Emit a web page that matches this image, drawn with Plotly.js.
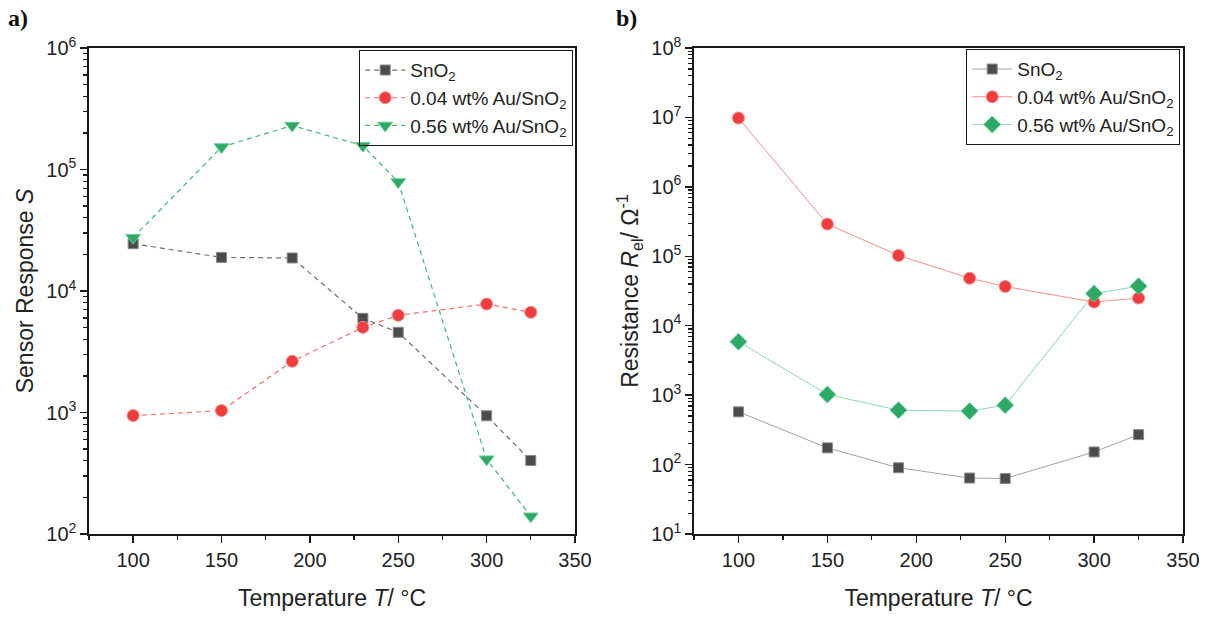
<!DOCTYPE html>
<html><head><meta charset="utf-8">
<script src="https://cdn.plot.ly/plotly-3.0.1.min.js"></script>
<style>html,body{margin:0;padding:0;background:#fff}#chart{width:1212px;height:617px}</style>
</head><body><div id="chart"></div>
<script>
// ---- data ----
const temperature = [100, 150, 190, 230, 250, 300, 325];
const responseSnO2 = [24500, 18900, 18700, 5960, 4570, 940, 403];
const responseAu004 = [944, 1037, 2640, 5020, 6310, 7810, 6680];
const responseAu056 = [27500, 153000, 230000, 157000, 79000, 413, 140];
const resistanceSnO2 = [575, 174, 90, 64, 63, 152, 270];
const resistanceAu004 = [9.8e6, 2.91e5, 1.03e5, 4.83e4, 3.67e4, 2.19e4, 2.5e4];
const resistanceAu056 = [5890, 1023, 608, 589, 718, 2.91e4, 3.71e4];
const seriesNames = ['SnO<sub>2</sub>', '0.04 wt% Au/SnO<sub>2</sub>', '0.56 wt% Au/SnO<sub>2</sub>'];
const xTickVals = [100, 150, 200, 250, 300, 350];
const leftYTickVals = [1e2, 1e3, 1e4, 1e5, 1e6];
const leftYTickText = ['10<sup>2</sup>', '10<sup>3</sup>', '10<sup>4</sup>', '10<sup>5</sup>', '10<sup>6</sup>'];
const rightYTickVals = [1e1, 1e2, 1e3, 1e4, 1e5, 1e6, 1e7, 1e8];
const rightYTickText = ['10<sup>1</sup>', '10<sup>2</sup>', '10<sup>3</sup>', '10<sup>4</sup>', '10<sup>5</sup>', '10<sup>6</sup>', '10<sup>7</sup>', '10<sup>8</sup>'];

const FONT = 'Liberation Sans, Arial, sans-serif';
const markerGray = '#4b4b4b', markerRed = '#f03c3c', markerGreen = '#2ea865';

function minorLogVals(lo, hi) {
  const v = [];
  for (let d = lo; d < hi; d++) for (let k = 2; k <= 9; k++) v.push(k * Math.pow(10, d));
  return v;
}

const traces = [
  {x: temperature, y: responseSnO2, name: seriesNames[0], xaxis: 'x', yaxis: 'y', legend: 'legend',
   mode: 'lines+markers', line: {color: '#6e6e6e', width: 1.2, dash: '5px,4px'},
   marker: {symbol: 'square', size: 10, color: markerGray, line: {color: '#8a8a8a', width: 1}}},
  {x: temperature, y: responseAu004, name: seriesNames[1], xaxis: 'x', yaxis: 'y', legend: 'legend',
   mode: 'lines+markers', line: {color: '#f26a6a', width: 1.2, dash: '5px,4px'},
   marker: {symbol: 'circle', size: 12, color: markerRed, line: {color: '#f58a8a', width: 1}}},
  {x: temperature, y: responseAu056, name: seriesNames[2], xaxis: 'x', yaxis: 'y', legend: 'legend',
   mode: 'lines+markers', line: {color: '#3dba75', width: 1.2, dash: '5px,4px'},
   marker: {symbol: 'triangle-down', size: 13, color: markerGreen, line: {color: '#6fcc98', width: 1}}},
  {x: temperature, y: resistanceSnO2, name: seriesNames[0], xaxis: 'x2', yaxis: 'y2', legend: 'legend2',
   mode: 'lines+markers', line: {color: '#a3a3a3', width: 1},
   marker: {symbol: 'square', size: 10, color: markerGray, line: {color: '#8a8a8a', width: 1}}},
  {x: temperature, y: resistanceAu004, name: seriesNames[1], xaxis: 'x2', yaxis: 'y2', legend: 'legend2',
   mode: 'lines+markers', line: {color: '#f58f8f', width: 1},
   marker: {symbol: 'circle', size: 12, color: markerRed, line: {color: '#f58a8a', width: 1}}},
  {x: temperature, y: resistanceAu056, name: seriesNames[2], xaxis: 'x2', yaxis: 'y2', legend: 'legend2',
   mode: 'lines+markers', line: {color: '#8fd8b1', width: 1},
   marker: {symbol: 'diamond', size: 13, color: markerGreen, line: {color: '#6fcc98', width: 1}}}
];

function xAxis(domain, anchor) {
  return {
    domain: domain, anchor: anchor, range: [75, 350], tickmode: 'array', tickvals: xTickVals,
    showline: true, mirror: true, linecolor: '#1a1a1a', linewidth: 1.6,
    ticks: 'outside', ticklen: 7, tickwidth: 1.4, tickcolor: '#1a1a1a',
    minor: {tickmode: 'array', tickvals: [75, 125, 175, 225, 275, 325], ticks: 'outside', ticklen: 4, tickwidth: 1.2, tickcolor: '#1a1a1a', showgrid: false},
    showgrid: false, zeroline: false,
    tickfont: {family: FONT, size: 20, color: '#222'},
    title: {text: 'Temperature <i>T</i>/ °C', font: {family: FONT, size: 23, color: '#222'}, standoff: 20}
  };
}
function yAxis(anchor, lo, hi, vals, text, titleText) {
  return {
    domain: [0.1345, 0.9222], anchor: anchor, type: 'log', range: [lo, hi],
    tickmode: 'array', tickvals: vals, ticktext: text,
    showline: true, mirror: true, linecolor: '#1a1a1a', linewidth: 1.6,
    ticks: 'outside', ticklen: 7, tickwidth: 1.4, tickcolor: '#1a1a1a',
    minor: {tickmode: 'array', tickvals: minorLogVals(lo, hi), ticks: 'outside', ticklen: 4, tickwidth: 1.2, tickcolor: '#1a1a1a', showgrid: false},
    showgrid: false, zeroline: false,
    tickfont: {family: FONT, size: 20, color: '#222'},
    title: {text: titleText, font: {family: FONT, size: 23, color: '#222'}, standoff: 6}
  };
}

const legendStyle = {
  font: {family: FONT, size: 19, color: '#222'}, bgcolor: 'rgba(255,255,255,0)',
  bordercolor: '#1a1a1a', borderwidth: 1.2, xref: 'paper', yref: 'paper',
  xanchor: 'right', yanchor: 'top', itemwidth: 40, tracegroupgap: 0
};

const layout = {
  width: 1212, height: 617, margin: {l: 0, r: 0, t: 0, b: 0},
  paper_bgcolor: '#fff', plot_bgcolor: '#fff', showlegend: true,
  xaxis: xAxis([0.0734, 0.4744], 'y'),
  yaxis: yAxis('x', 2, 6, leftYTickVals, leftYTickText, 'Sensor Response <i>S</i>'),
  xaxis2: xAxis([0.5726, 0.9761], 'y2'),
  yaxis2: yAxis('x2', 1, 8, rightYTickVals, rightYTickText, 'Resistance <i>R</i><sub>el</sub>/ Ω<sup>-1</sup>'),
  legend: Object.assign({}, legendStyle, {x: 0.4728, y: 0.919}),
  legend2: Object.assign({}, legendStyle, {x: 0.9736, y: 0.9206}),
  annotations: [
    {text: '<b>a)</b>', xref: 'paper', yref: 'paper', x: 0.005, y: 0.995, xanchor: 'left', yanchor: 'top', showarrow: false,
     font: {family: 'Liberation Serif, DejaVu Serif, serif', size: 24, color: '#111'}},
    {text: '<b>b)</b>', xref: 'paper', yref: 'paper', x: 0.507, y: 0.995, xanchor: 'left', yanchor: 'top', showarrow: false,
     font: {family: 'Liberation Serif, DejaVu Serif, serif', size: 24, color: '#111'}}
  ]
};

Plotly.newPlot('chart', traces, layout, {displayModeBar: false, staticPlot: true});
</script>
</body></html>
